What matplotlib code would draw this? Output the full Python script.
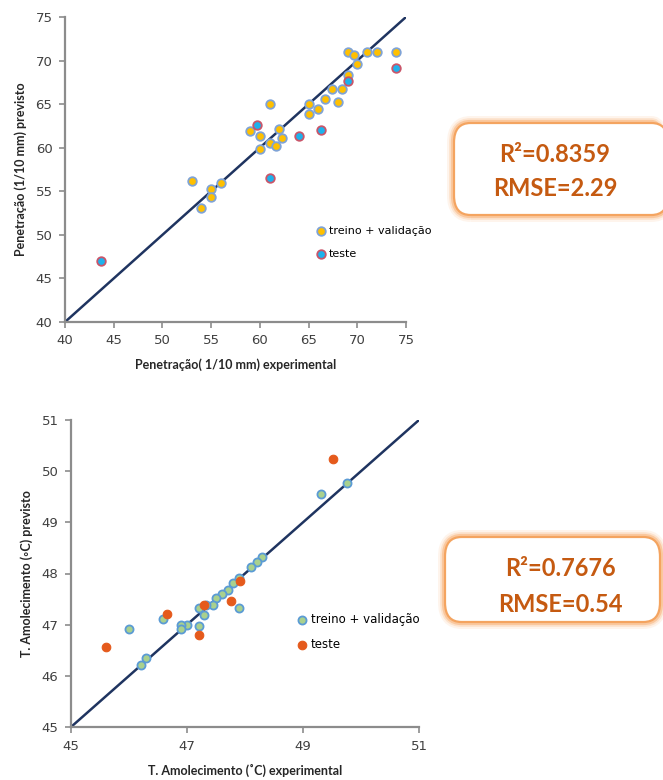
import matplotlib
matplotlib.use("Agg")
import matplotlib.pyplot as plt
from matplotlib.patches import FancyBboxPatch

# ---------------- data ----------------
# Top: Penetração (1/10 mm)
pen_train_exp = [69.0, 69.7, 70.0, 71.0, 72.0, 74.0, 69.0, 67.4, 68.4, 66.7, 68.0, 65.0,
                 66.0, 65.0, 61.0, 62.0, 59.0, 60.0, 62.3, 61.0, 61.65, 60.0, 53.0, 56.0,
                 55.0, 55.0, 54.0]
pen_train_prev = [71.0, 70.6, 69.65, 71.0, 71.0, 71.0, 68.4, 66.7, 66.7, 65.6, 65.2, 65.0,
                  64.4, 63.9, 65.0, 62.2, 61.9, 61.4, 61.15, 60.5, 60.2, 59.8, 56.2, 56.0,
                  55.3, 54.3, 53.1]
pen_test_exp = [59.7, 64.0, 66.3, 61.0, 69.0, 74.0, 43.7]
pen_test_prev = [62.6, 61.3, 62.0, 56.5, 67.6, 69.2, 47.0]
pen_ticks = [40, 45, 50, 55, 60, 65, 70, 75]

# Bottom: T. Amolecimento (°C)
ta_train_exp = [49.31, 49.76, 48.30, 48.21, 48.10, 47.90, 47.80, 47.70, 47.60, 47.50, 47.45,
                47.33, 47.21, 47.30, 47.90, 47.21, 47.00, 46.90, 46.90, 46.59, 46.00, 46.30,
                46.20]
ta_train_prev = [49.56, 49.76, 48.33, 48.22, 48.12, 47.92, 47.82, 47.68, 47.60, 47.53, 47.39,
                 47.39, 47.32, 47.19, 47.32, 46.98, 47.00, 47.00, 46.92, 47.11, 46.92, 46.35,
                 46.22]
ta_test_exp = [49.51, 47.91, 47.75, 47.30, 46.65, 47.21, 45.60]
ta_test_prev = [50.23, 47.85, 47.47, 47.39, 47.21, 46.80, 46.56]
ta_xticks = [45, 47, 49, 51]
ta_yticks = [45, 46, 47, 48, 49, 50, 51]

labels = ["treino + validação", "teste"]
stats_top = ["R²=0.8359", "RMSE=2.29"]
stats_bot = ["R²=0.7676", "RMSE=0.54"]

# ---------------- figure ----------------
W, H = 663, 780
fig = plt.figure(figsize=(W / 100, H / 100), dpi=100)
fig.patch.set_facecolor("white")

LABEL_FONT = ["Lato", "DejaVu Sans"]
TICK_COLOR = "#404040"
SPINE_COLOR = "#8C8C8C"
LINE_COLOR = "#1F3460"


def px_axes(l, r, t, b):
    return fig.add_axes([l / W, 1 - b / H, (r - l) / W, (b - t) / H])


def style_axes(ax):
    for s in ["top", "right"]:
        ax.spines[s].set_visible(False)
    for s in ["left", "bottom"]:
        ax.spines[s].set_color(SPINE_COLOR)
        ax.spines[s].set_linewidth(1.6)
    ax.tick_params(direction="out", length=4, width=1.2, color=SPINE_COLOR,
                   labelcolor=TICK_COLOR, labelsize=9.5, pad=5)
    ax.set_facecolor("white")


# ---- top plot ----
ax1 = px_axes(65, 406, 17, 322)
style_axes(ax1)
ax1.plot([pen_ticks[0], pen_ticks[-1]], [pen_ticks[0], pen_ticks[-1]],
         color=LINE_COLOR, lw=1.8, zorder=1)
ax1.scatter(pen_train_exp, pen_train_prev, s=38, c="#FFC000", edgecolors="#7FA3D6",
            linewidths=1.3, zorder=3, label=labels[0])
ax1.scatter(pen_test_exp, pen_test_prev, s=38, c="#1EB2EC", edgecolors="#C9566A",
            linewidths=1.3, zorder=3, label=labels[1])
ax1.set_xlim(pen_ticks[0], pen_ticks[-1])
ax1.set_ylim(pen_ticks[0], pen_ticks[-1])
ax1.set_xticks(pen_ticks)
ax1.set_yticks(pen_ticks)
ax1.set_xlabel("Penetração( 1/10 mm) experimental", family=LABEL_FONT,
               fontweight="bold", fontsize=9, color="#262626", labelpad=8)
ax1.set_ylabel("Penetração (1/10 mm) previsto", family=LABEL_FONT,
               fontweight="bold", fontsize=9, color="#262626", labelpad=6)
ax1.legend(loc="upper left", bbox_to_anchor=(0.737, 0.315), frameon=False,
           fontsize=8, handlelength=0.8, handletextpad=0.3, labelspacing=1.15,
           borderpad=0, borderaxespad=0, scatterpoints=1)

# ---- bottom plot ----
ax2 = px_axes(71, 419, 420, 727)
style_axes(ax2)
ax2.plot([ta_xticks[0], ta_xticks[-1]], [ta_yticks[0], ta_yticks[-1]],
         color=LINE_COLOR, lw=1.8, zorder=1)
ax2.scatter(ta_train_exp, ta_train_prev, s=34, c="#A9D18E", edgecolors="#5B9BD5",
            linewidths=1.3, zorder=3, label=labels[0])
ax2.scatter(ta_test_exp, ta_test_prev, s=38, c="#E55A1C", edgecolors="#E55A1C",
            linewidths=0.8, zorder=4, label=labels[1])
ax2.set_xlim(ta_xticks[0], ta_xticks[-1])
ax2.set_ylim(ta_yticks[0], ta_yticks[-1])
ax2.set_xticks(ta_xticks)
ax2.set_yticks(ta_yticks)
ax2.set_xlabel("T. Amolecimento (˚C) experimental", family=LABEL_FONT,
               fontweight="bold", fontsize=9, color="#262626", labelpad=8)
ax2.set_ylabel("T. Amolecimento (◦C) previsto", family=LABEL_FONT,
               fontweight="bold", fontsize=9, color="#262626", labelpad=6)
ax2.legend(loc="upper left", bbox_to_anchor=(0.651, 0.370), frameon=False,
           fontsize=8.5, handlelength=0.8, handletextpad=0.3, labelspacing=1.0,
           borderpad=0, borderaxespad=0, scatterpoints=1)


# ---- stats boxes ----
def stat_box(l, r, t, b, lines, cx, y1, y2):
    x0, y0 = l / W, 1 - b / H
    w, h = (r - l) / W, (b - t) / H
    for lw, alpha in [(10, 0.10), (7, 0.18), (4.5, 0.35)]:
        fig.patches.append(FancyBboxPatch((x0, y0), w, h,
                                          boxstyle="round,pad=0,rounding_size=0.025",
                                          transform=fig.transFigure, facecolor="none",
                                          edgecolor="#F79646", lw=lw, alpha=alpha,
                                          zorder=5))
    fig.patches.append(FancyBboxPatch((x0, y0), w, h,
                                      boxstyle="round,pad=0,rounding_size=0.025",
                                      transform=fig.transFigure, facecolor="white",
                                      edgecolor="#F4A460", lw=1.6, zorder=6))
    for txt, yy in [(lines[0], y1), (lines[1], y2)]:
        fig.text(cx / W, 1 - yy / H, txt, ha="center", va="center", fontsize=17,
                 color="#C55A11", family=LABEL_FONT, fontweight="bold", zorder=7)


stat_box(454, 668, 123, 215, stats_top, 555, 155, 188)
stat_box(445, 660, 537, 622, stats_bot, 560, 569, 605)

fig.savefig("out.png", dpi=100, facecolor="white")
